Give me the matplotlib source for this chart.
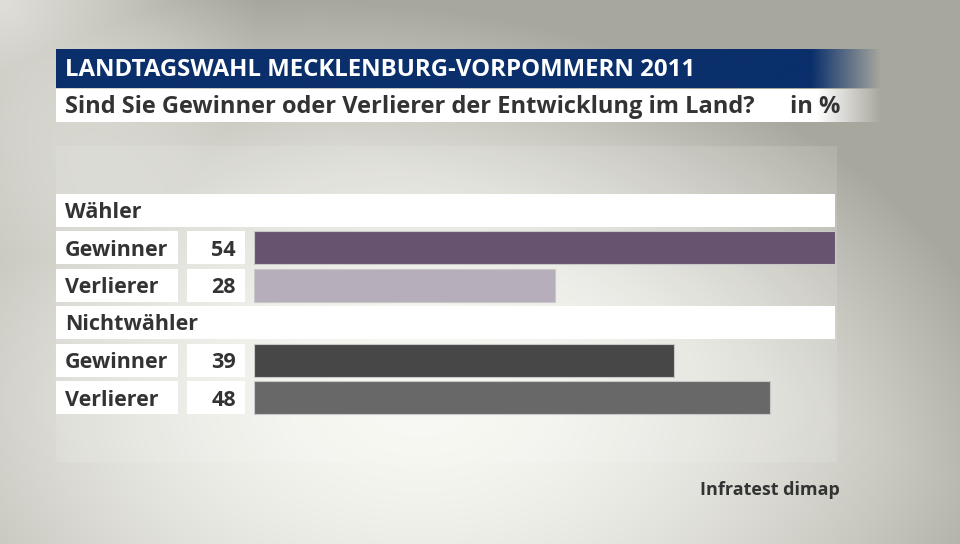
import numpy as np
import matplotlib
matplotlib.use('Agg')
import matplotlib.pyplot as plt
from matplotlib.patches import Rectangle

plt.rcParams['font.family'] = ['Open Sans', 'DejaVu Sans']
plt.rcParams['font.weight'] = 'bold'

# Daten
title = 'LANDTAGSWAHL MECKLENBURG-VORPOMMERN 2011'
subtitle = 'Sind Sie Gewinner oder Verlierer der Entwicklung im Land?'
unit = 'in %'
source = 'Infratest dimap'
groups = ['Wähler', 'Nichtwähler']
labels = ['Gewinner', 'Verlierer', 'Gewinner', 'Verlierer']
values = [54, 28, 39, 48]
colors = ['#67536f', '#b6aebb', '#474747', '#686868']

W, H = 960, 544
fig = plt.figure(figsize=(W / 100, H / 100), dpi=100)

# Hintergrund (pixel-Koordinaten)
bg = fig.add_axes([0, 0, 1, 1])
bg.set_xlim(0, W)
bg.set_ylim(H, 0)
bg.axis('off')

yy, xx = np.mgrid[0:H, 0:W]
r = np.sqrt(((xx - 420) / 640) ** 2 + ((yy - 400) / 430) ** 2)
t = np.clip(r, 0, 1) ** 1.8
# rechts oben dunkler
t = t + 0.45 * np.clip((xx / W - yy / H) - 0.1, 0, 1)
# Lichtfleck links oben
t = t - 0.7 * np.clip(1 - np.sqrt(xx ** 2 + yy ** 2) / 260, 0, 1)
t = np.clip(t, 0, 1)
light = np.array([248, 248, 243]) / 255
dark = np.array([168, 167, 158]) / 255
img = light[None, None, :] * (1 - t[..., None]) + dark[None, None, :] * t[..., None]
bg.imshow(img, extent=(0, W, H, 0), aspect='auto', zorder=0)

# leicht hellere Fläche hinter den Zeilen
bg.add_patch(Rectangle((56, 146), 781, 316, color='white', alpha=0.12, lw=0, zorder=1))


def fade_band(x0, x1, xf, y0, y1, rgb):
    n = 400
    xs = np.linspace(x0, x1, n)
    a = np.clip((x1 - xs) / (x1 - xf), 0, 1)
    arr = np.zeros((1, n, 4))
    arr[0, :, :3] = rgb
    arr[0, :, 3] = a
    bg.imshow(arr, extent=(x0, x1, y1, y0), aspect='auto', zorder=2, interpolation='bilinear')


fade_band(56, 882, 812, 49, 88, np.array([10, 47, 107]) / 255)
fade_band(56, 882, 818, 89, 122, np.array([1.0, 1.0, 1.0]))

bg.text(65, 70, title, color='white', fontsize=17.3, va='center', ha='left', zorder=3)
bg.text(65, 107, subtitle, color='#333333', fontsize=17, va='center', ha='left', zorder=3)
bg.text(840, 107, unit, color='#333333', fontsize=17, va='center', ha='right', zorder=3)
bg.text(840, 490, source, color='#333333', fontsize=13, va='center', ha='right', zorder=3)

# Zeilen: Slot 0 = Gruppe 1, 1-2 Werte, 3 = Gruppe 2, 4-5 Werte
slots = [1, 2, 4, 5]
group_slots = [0, 3]
y0, step, bh = 210, 37.5, 33

for g, s in zip(groups, group_slots):
    yc = y0 + step * s
    bg.add_patch(Rectangle((56, yc - bh / 2), 779, bh, color='white', lw=0, zorder=2))
    bg.text(65, yc + 2.5, g, color='#333333', fontsize=15.5, va='center', ha='left', zorder=3)

for lab, v, s in zip(labels, values, slots):
    yc = y0 + step * s
    bg.add_patch(Rectangle((56, yc - bh / 2), 122, bh, color='white', lw=0, zorder=2))
    bg.add_patch(Rectangle((187, yc - bh / 2), 58, bh, color='white', lw=0, zorder=2))
    bg.text(65, yc + 2.5, lab, color='#333333', fontsize=15.5, va='center', ha='left', zorder=3)
    bg.text(236, yc + 2.5, str(v), color='#333333', fontsize=15.5, va='center', ha='right', zorder=3)

# Balken
x_left, x_right = 254, 835
top = y0 - step / 2
bottom = y0 + step * 5.5
ax = fig.add_axes([x_left / W, 1 - bottom / H, (x_right - x_left) / W, (bottom - top) / H])
ax.patch.set_alpha(0)
ax.barh(slots, values, height=bh / step, color=colors, edgecolor='#c8c8c8', linewidth=0.8)
ax.set_xlim(0, max(values))
ax.set_ylim(5.5, -0.5)
ax.axis('off')

fig.savefig('out.png', dpi=100)
